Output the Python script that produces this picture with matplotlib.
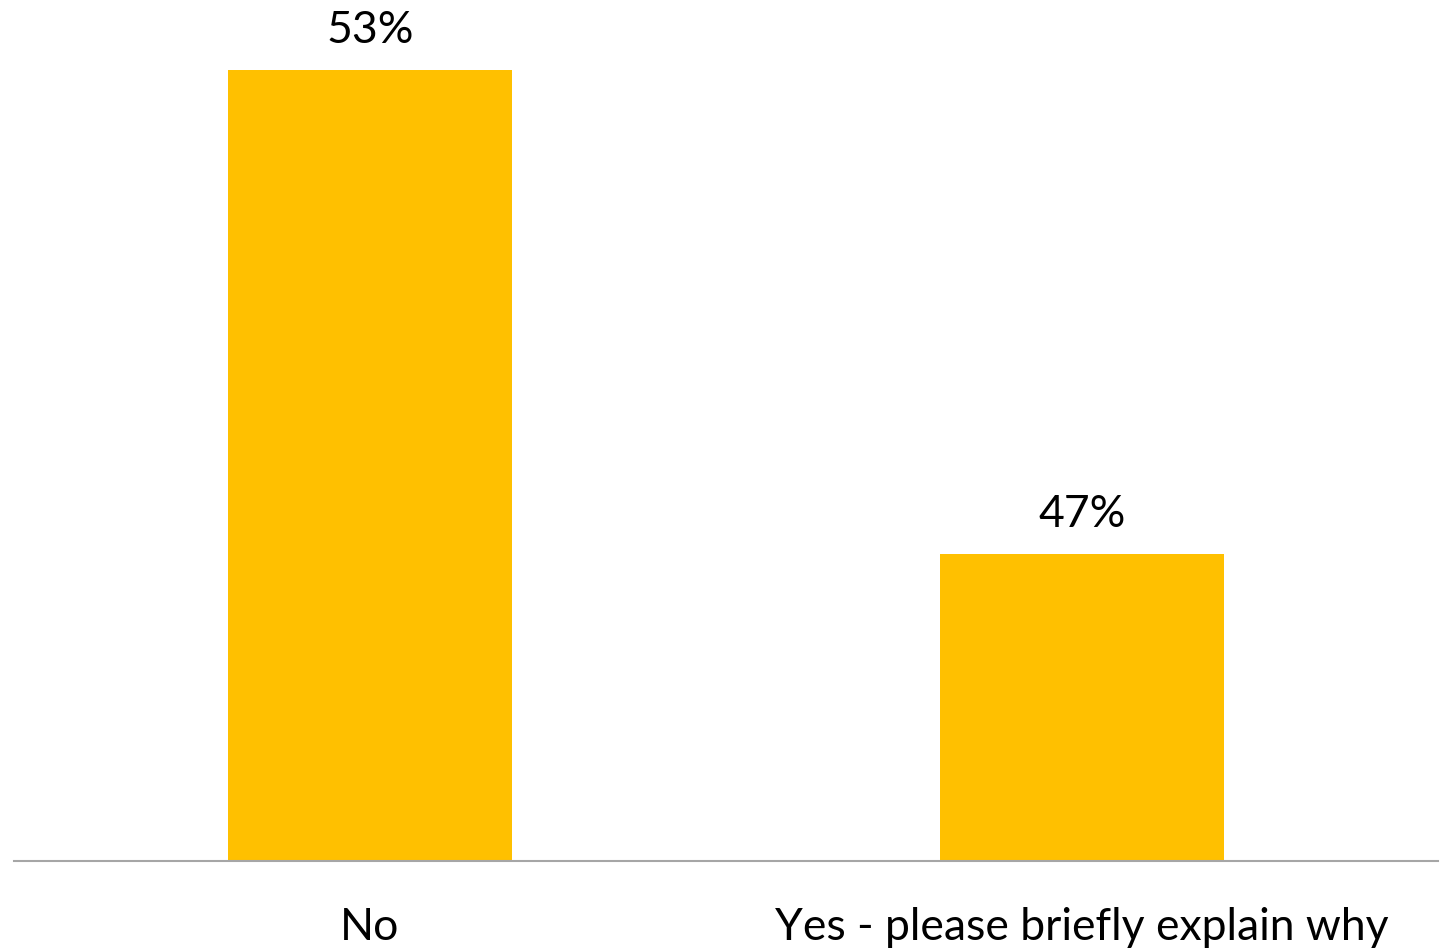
import matplotlib.pyplot as plt

categories = ["No", "Yes - please briefly explain why"]
values = [53, 47]
labels = ["53%", "47%"]

W, H = 1445, 952
fig = plt.figure(figsize=(W / 100, H / 100), dpi=100)
ax = fig.add_axes([14 / W, (H - 861) / H, (1438 - 14) / W, (861 - 70) / H])

ax.bar(range(len(categories)), values, width=0.4, color="#FFC000", zorder=2)
ax.set_xlim(-0.5, 1.5)
ax.set_ylim(43.2, 53)

for i, (v, lab) in enumerate(zip(values, labels)):
    ax.annotate(lab, (i, v), xytext=(0, 14), textcoords="offset points",
                ha="center", va="bottom", fontsize=32, family="Lato")

ax.set_xticks(range(len(categories)))
ax.set_xticklabels(categories, fontsize=32, family="Lato")
ax.tick_params(axis="x", length=0, pad=33)
ax.set_yticks([])
for side in ["top", "right", "left"]:
    ax.spines[side].set_visible(False)
ax.spines["bottom"].set_color("#A6A6A6")
ax.spines["bottom"].set_linewidth(1.5)

fig.savefig("out.png", dpi=100)
